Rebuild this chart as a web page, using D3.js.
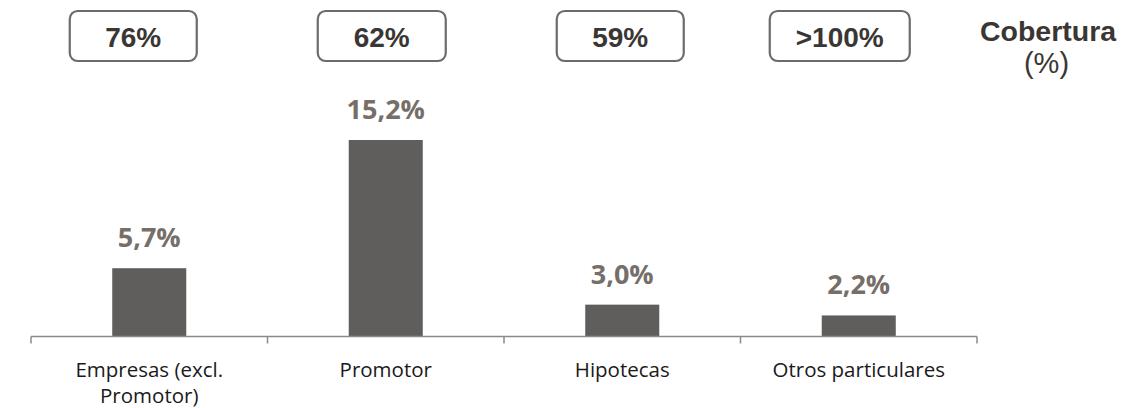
<!DOCTYPE html>
<html><head><meta charset="utf-8">
<script src="https://cdn.jsdelivr.net/npm/d3@7"></script>
<style>html,body{margin:0;padding:0;background:#fff;}svg{display:block;}</style>
</head><body>
<svg id="chart" width="1125" height="408"></svg>
<script>
const categories = ["Empresas (excl. Promotor)", "Promotor", "Hipotecas", "Otros particulares"];
const categoryLines = [["Empresas (excl.", "Promotor)"], ["Promotor"], ["Hipotecas"], ["Otros particulares"]];
const values = [5.7, 15.2, 3.0, 2.2];
const valueLabels = ["5,7%", "15,2%", "3,0%", "2,2%"];
const coverage = ["76%", "62%", "59%", ">100%"];
const coverageTitle = "Cobertura";
const coverageUnit = "(%)";

// layout (not data)
const boxOffsets = [-16, -4, -2, -19];
const boxWidths = [127, 128, 127, 140];

const svg = d3.select("#chart");
const x = d3.scaleBand().domain(categories).range([31, 977]).paddingInner(0.687).paddingOuter(0.3435);
const y = d3.scaleLinear().domain([0.64, 15.2]).range([336.5, 140]);

// bars
svg.selectAll("rect.bar").data(values).enter().append("rect")
  .attr("class","bar")
  .attr("x",(d,i)=>x(categories[i]))
  .attr("width",x.bandwidth())
  .attr("y",d=>y(d))
  .attr("height",d=>y.range()[0]-y(d))
  .attr("fill","#5f5e5c");

// axis
const step = x.step();
const axisY = y.range()[0];
svg.append("line").attr("x1",31).attr("x2",977).attr("y1",axisY).attr("y2",axisY)
  .attr("stroke","#8a8a8a").attr("stroke-width",1.5);
const tickXs = d3.range(categories.length+1).map(i=>31+i*step);
svg.selectAll("line.tick").data(tickXs).enter().append("line")
  .attr("x1",d=>d).attr("x2",d=>d).attr("y1",axisY).attr("y2",axisY+7)
  .attr("stroke","#8a8a8a").attr("stroke-width",1.5);

// category labels
categoryLines.forEach((lines,i)=>{
  const cx = x(categories[i])+x.bandwidth()/2;
  lines.forEach((t,j)=>{
    svg.append("text").attr("x",cx).attr("y",376.5+j*26.7)
      .attr("text-anchor","middle")
      .style("font-family","'Open Sans', sans-serif").style("font-size","20.5px")
      .attr("fill","#1a1a1a").text(t);
  });
});

// value labels
svg.selectAll("text.val").data(values).enter().append("text")
  .attr("class","val")
  .attr("x",(d,i)=>x(categories[i])+x.bandwidth()/2)
  .attr("y",d=>y(d)-21)
  .attr("text-anchor","middle")
  .style("font-family","'Open Sans', sans-serif").style("font-size","27px").style("font-weight","bold")
  .attr("fill","#766f69")
  .text((d,i)=>valueLabels[i]);

// coverage boxes
coverage.forEach((c,i)=>{
  const cx = x(categories[i])+x.bandwidth()/2+boxOffsets[i];
  const w = boxWidths[i];
  svg.append("rect").attr("x",cx-w/2).attr("y",11).attr("width",w).attr("height",50)
    .attr("rx",8).attr("ry",8).attr("fill","#fff").attr("stroke","#6b6b6b").attr("stroke-width",2.2);
  svg.append("text").attr("x",cx).attr("y",46.5).attr("text-anchor","middle")
    .style("font-family","'Liberation Sans', Arial, sans-serif").style("font-size","28px").style("font-weight","bold")
    .attr("fill","#3a3633").text(c);
});

svg.append("text").attr("x",1048).attr("y",41).attr("text-anchor","middle")
  .style("font-family","'Liberation Sans', Arial, sans-serif").style("font-size","28.5px").style("font-weight","bold")
  .attr("fill","#3a3633").text(coverageTitle);
svg.append("text").attr("x",1046.5).attr("y",73).attr("text-anchor","middle")
  .style("font-family","'Liberation Sans', Arial, sans-serif").style("font-size","29px")
  .attr("fill","#3a3633").text(coverageUnit);
</script>
</body></html>
